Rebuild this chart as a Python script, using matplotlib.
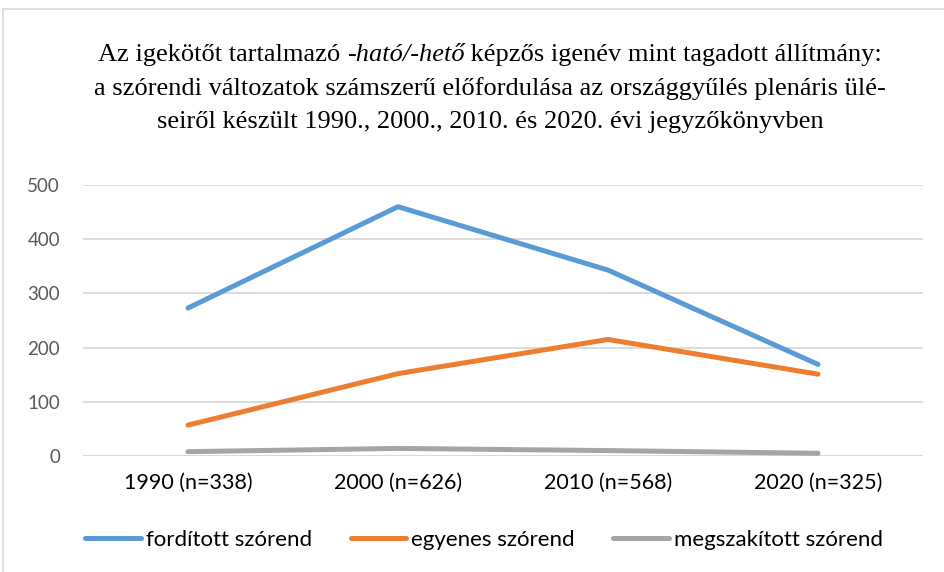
import matplotlib
matplotlib.use("Agg")
import matplotlib.pyplot as plt
from matplotlib.lines import Line2D

categories = ["1990 (n=338)", "2000 (n=626)", "2010 (n=568)", "2020 (n=325)"]
forditott = [273, 460, 343, 169]
egyenes = [57, 152, 215, 151]
megszakitott = [8, 14, 10, 5]
series_names = ["fordított szórend", "egyenes szórend", "megszakított szórend"]
colors = ["#5B9BD5", "#ED7D31", "#A5A5A5"]
yticks = [0, 100, 200, 300, 400, 500]

W, H = 944, 572
fig = plt.figure(figsize=(W / 100, H / 100), dpi=100)
fig.patch.set_facecolor("white")

ax = fig.add_axes([83 / W, 1 - 456 / H, (923 - 83) / W, (456 - 185) / H])
x = list(range(len(categories)))
for vals, c, name in zip([forditott, egyenes, megszakitott], colors, series_names):
    ax.plot(x, vals, color=c, lw=3.6, solid_capstyle="round", solid_joinstyle="round", label=name, zorder=3)

ax.set_xlim(-0.5, len(categories) - 0.5)
ax.set_ylim(0, 500)
ax.set_yticks(yticks)
ax.set_yticklabels([str(v) for v in yticks], fontfamily="Lato", fontsize=13.5, color="#595959")
ax.set_xticks(x)
ax.set_xticklabels(categories, fontfamily="Lato", fontsize=15.5, color="#000000")
ax.tick_params(axis="both", length=0)
ax.tick_params(axis="y", pad=16.5)
ax.tick_params(axis="x", pad=12)
for s in ax.spines.values():
    s.set_visible(False)
ax.grid(axis="y", color="#D9D9D9", lw=1.3, zorder=0)
ax.axhline(0, color="#D9D9D9", lw=1.3, zorder=1)

# border lines of chart area
fig.add_artist(Line2D([3 / W, 3 / W], [0, 1 - 9 / H], color="#D9D9D9", lw=1.2))
fig.add_artist(Line2D([3 / W, 1], [1 - 9 / H, 1 - 9 / H], color="#D9D9D9", lw=1.2))

# Title
tfont = dict(family="Liberation Serif", size=19, color="#000000")
renderer = fig.canvas.get_renderer()
parts = [("Az igekötőt tartalmazó ", "normal"), ("-ható/-hető", "italic"),
         (" képzős igenév mint tagadott állítmány:", "normal")]
widths = []
tmp = []
for s, st in parts:
    t = fig.text(0, 0, s, fontstyle=st, **tfont)
    bb = t.get_window_extent(renderer)
    widths.append(bb.width)
    tmp.append(t)
for t in tmp:
    t.remove()
total = sum(widths)
cx = 490
xs = cx - total / 2
y1 = 1 - 55 / H
for (s, st), w in zip(parts, widths):
    fig.text(xs / W, y1, s, fontstyle=st, va="center", ha="left", **tfont)
    xs += w
fig.text(cx / W, 1 - 89 / H, "a szórendi változatok számszerű előfordulása az országgyűlés plenáris ülé-",
         ha="center", va="center", **tfont)
fig.text(cx / W, 1 - 122 / H, "seiről készült 1990., 2000., 2010. és 2020. évi jegyzőkönyvben",
         ha="center", va="center", **tfont)

leg = fig.legend(loc="center", bbox_to_anchor=(484 / W, 1 - 540 / H), ncol=3, frameon=False,
                 prop=dict(family="Lato", size=16), handlelength=2.5, handletextpad=0.22,
                 columnspacing=1.75, labelcolor="#000000")
for h in leg.get_lines():
    h.set_linewidth(3.6)

fig.savefig("out.png", dpi=100, facecolor="white")
